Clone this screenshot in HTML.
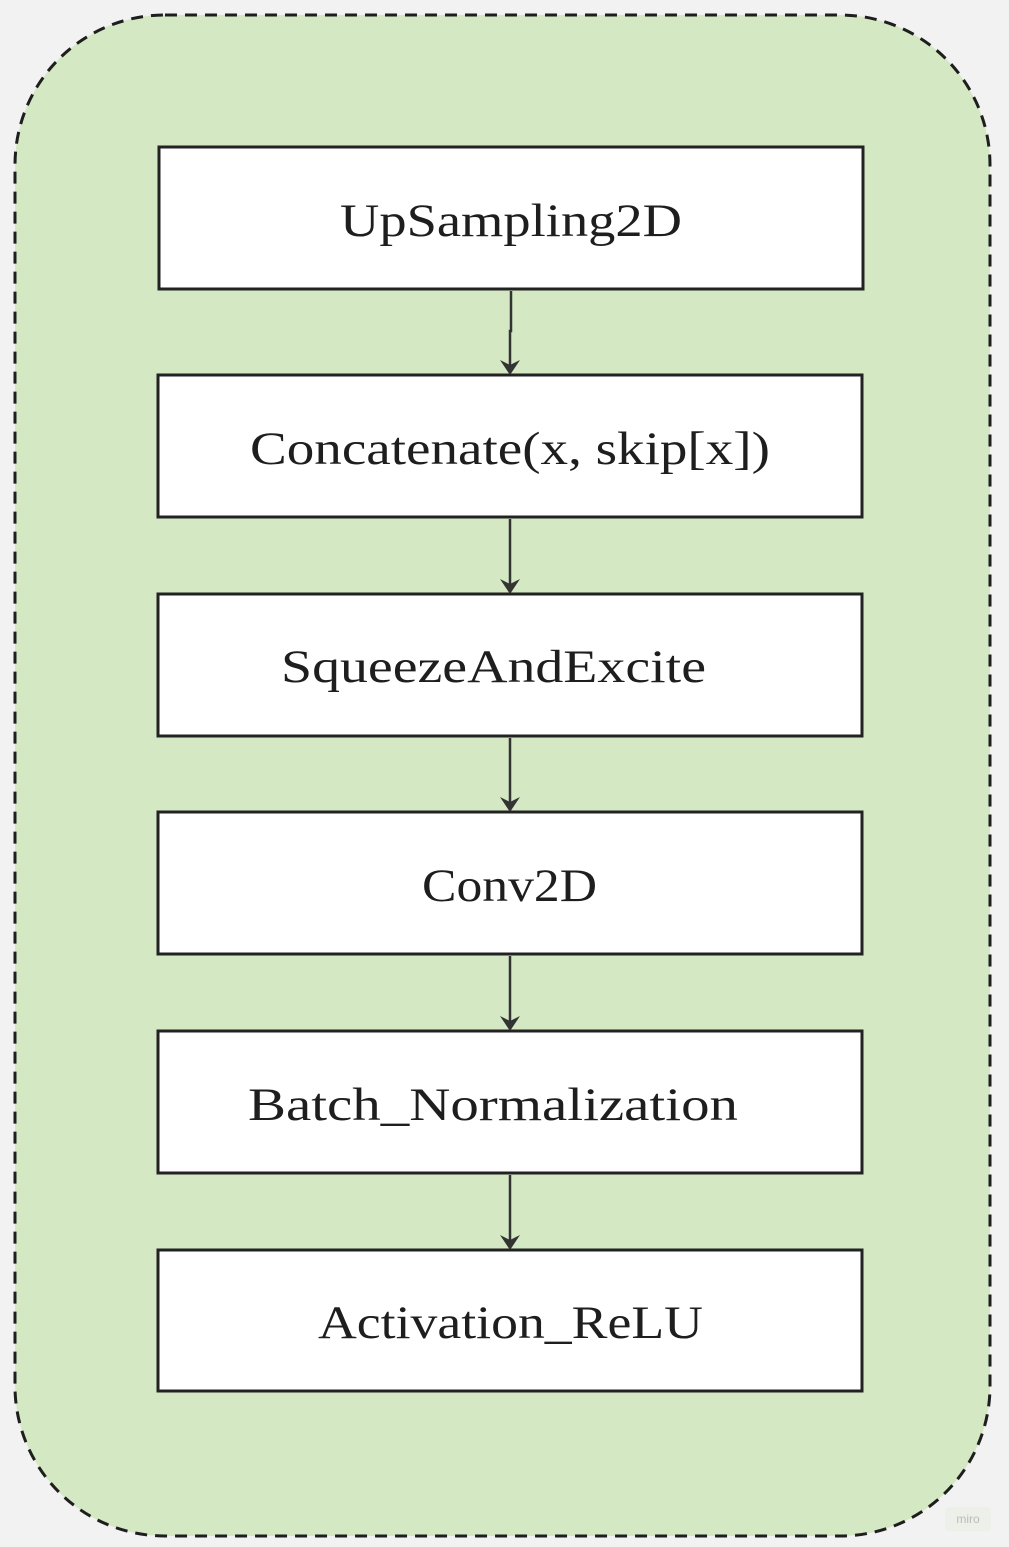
<!DOCTYPE html>
<html><head><style>html,body{margin:0;padding:0;background:#f2f2f2;}svg{display:block}</style></head>
<body>
<svg width="1009" height="1547" viewBox="0 0 1009 1547" xmlns="http://www.w3.org/2000/svg">
<rect x="0" y="0" width="1009" height="1547" fill="#f2f2f2"/>
<rect x="15" y="15" width="975" height="1521" rx="150" ry="150" fill="#d5e8c4" stroke="#1e1e1e" stroke-width="3" stroke-dasharray="12 8"/>
<g fill="#fff" stroke="#222" stroke-width="3">
<rect x="159" y="147" width="704" height="142"/>
<rect x="158" y="375" width="704" height="142"/>
<rect x="158" y="594" width="704" height="142"/>
<rect x="158" y="812" width="704" height="142"/>
<rect x="158" y="1031" width="704" height="142"/>
<rect x="158" y="1250" width="704" height="141"/>
</g>
<g stroke="#333" stroke-width="2.5" fill="none">
<polyline points="511,291 511,331 510,331 510,366"/>
<line x1="510" y1="519" x2="510" y2="585"/>
<line x1="510" y1="738" x2="510" y2="803"/>
<line x1="510" y1="956" x2="510" y2="1022"/>
<line x1="510" y1="1175" x2="510" y2="1241"/>
</g>
<g fill="#333">
<polygon points="500,360 510,375 520,360 510,365"/>
<polygon points="500,579 510,594 520,579 510,584"/>
<polygon points="500,797 510,812 520,797 510,802"/>
<polygon points="500,1016 510,1031 520,1016 510,1021"/>
<polygon points="500,1235 510,1250 520,1235 510,1240"/>
</g>
<g font-family="'Liberation Serif', serif" font-size="47" fill="#1e1e1e">
<text x="340" y="236" textLength="342" lengthAdjust="spacingAndGlyphs">UpSampling2D</text>
<text x="250" y="464" textLength="520" lengthAdjust="spacingAndGlyphs">Concatenate(x, skip[x])</text>
<text x="281" y="682" textLength="425" lengthAdjust="spacingAndGlyphs">SqueezeAndExcite</text>
<text x="422" y="901" textLength="175" lengthAdjust="spacingAndGlyphs">Conv2D</text>
<text x="248" y="1120" textLength="490" lengthAdjust="spacingAndGlyphs">Batch_Normalization</text>
<text x="318" y="1338" textLength="385" lengthAdjust="spacingAndGlyphs">Activation_ReLU</text>
</g>
<rect x="945" y="1507" width="46" height="24" rx="4" fill="#e8efe2" opacity="0.6"/>
<text x="968" y="1523" font-family="'Liberation Sans', sans-serif" font-size="12" fill="#bbb" text-anchor="middle">miro</text>
</svg>
</body></html>
